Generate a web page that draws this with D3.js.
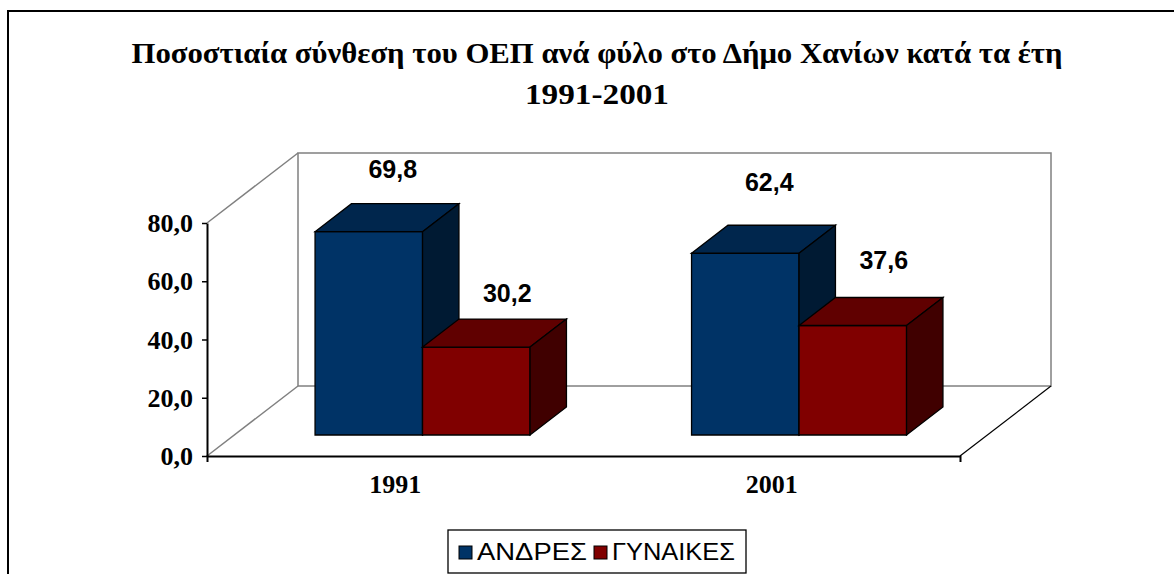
<!DOCTYPE html>
<html>
<head>
<meta charset="utf-8">
<script src="https://cdn.jsdelivr.net/npm/d3@7"></script>
<style>
  html, body { margin: 0; padding: 0; background: #ffffff; }
  svg { display: block; }
</style>
</head>
<body>
<svg id="chart" width="1174" height="574"></svg>
<script>
// ---- data ----
const categories = ["1991", "2001"];
const series = ["ΑΝΔΡΕΣ", "ΓΥΝΑΙΚΕΣ"];
const men = [69.8, 62.4];
const women = [30.2, 37.6];
const yTicks = [0, 20, 40, 60, 80];
const titleLines = ["Ποσοστιαία σύνθεση του ΟΕΠ ανά φύλο στο Δήμο Χανίων κατά τα έτη", "1991-2001"];

const values = [men, women];
const frontColors = ["#003366", "#800000"];
const topColors = ["#00264d", "#600000"];
const sideColors = ["#001a33", "#400000"];

const svg = d3.select("#chart");

// outer frame
svg.append("rect").attr("x", 8).attr("y", 11).attr("width", 1200).attr("height", 600)
  .attr("fill", "none").attr("stroke", "#000").attr("stroke-width", 2);

// title
const titleWidths = [931, 144];
titleLines.forEach((t, i) => {
  svg.append("text").attr("text-anchor", "middle")
    .attr("font-family", "'Liberation Serif', 'Times New Roman', serif")
    .attr("font-weight", "bold").attr("font-size", 30).attr("fill", "#000")
    .attr("x", 597).attr("y", 63 + i * 41)
    .attr("textLength", titleWidths[i]).attr("lengthAdjust", "spacingAndGlyphs")
    .text(t);
});

// geometry
const x0 = 207, x1 = 960, yBase = 456, yTop = 223;
const DX = 91, DY = -70;        // total depth offset
const fFront = 0.3, fBack = 0.7; // bar depth position

const x = d3.scaleBand().domain(categories).range([x0, x1]);
const inner = d3.scaleBand().domain(series).range([0, 215]);
const y = d3.scaleLinear().domain([0, 80]).range([yBase, yTop]);

// walls
const g = svg.append("g");
const gray = "#808080";
g.append("rect").attr("x", x0 + DX).attr("y", y(80) + DY).attr("width", x1 - x0).attr("height", y(0) - y(80))
  .attr("fill", "#fff").attr("stroke", gray).attr("stroke-width", 1.5);
g.append("line").attr("x1", x0).attr("y1", y(80)).attr("x2", x0 + DX).attr("y2", y(80) + DY)
  .attr("stroke", gray).attr("stroke-width", 1.5);
g.append("line").attr("x1", x0).attr("y1", y(0)).attr("x2", x0 + DX).attr("y2", y(0) + DY)
  .attr("stroke", gray).attr("stroke-width", 1.5);
g.append("line").attr("x1", x1).attr("y1", y(0)).attr("x2", x1 + DX).attr("y2", y(0) + DY)
  .attr("stroke", "#000").attr("stroke-width", 1.2);

// y axis
const yAxis = d3.axisLeft(y).tickValues(yTicks).tickSize(5).tickSizeOuter(0).tickPadding(9)
  .tickFormat(d => d3.format(".1f")(d).replace(".", ","));
const ya = svg.append("g").attr("transform", `translate(${x0},0)`).call(yAxis);
ya.select(".domain").attr("stroke", "#000").attr("stroke-width", 2);
ya.selectAll(".tick line").attr("stroke", "#000").attr("stroke-width", 1.5);
ya.selectAll(".tick text").attr("font-family", "'Liberation Serif', 'Times New Roman', serif")
  .attr("font-weight", "bold").attr("font-size", 26).attr("fill", "#000").attr("dy", "0.33em");

// x axis
const xAxis = d3.axisBottom(x).tickSize(0).tickSizeOuter(6).tickPadding(19);
const xa = svg.append("g").attr("transform", `translate(0,${yBase})`).call(xAxis);
xa.select(".domain").attr("stroke", "#000").attr("stroke-width", 2);
xa.selectAll(".tick text").attr("font-family", "'Liberation Serif', 'Times New Roman', serif")
  .attr("font-weight", "bold").attr("font-size", 26).attr("fill", "#000");

// bars
const bdx = (fBack - fFront) * DX, bdy = (fBack - fFront) * DY;
const offX = fFront * DX, offY = fFront * DY;
const bars = svg.append("g");
const labels = svg.append("g");
categories.forEach((c, ci) => {
  series.forEach((s, si) => {
    const v = values[si][ci];
    const bx0 = x(c) + x.bandwidth() / 2 - 107.5 + inner(s) + offX;
    const bx1 = bx0 + inner.bandwidth();
    const yt = y(v) + offY, yb = y(0) + offY;
    const poly = (pts, fill) => bars.append("polygon")
      .attr("points", pts.map(q => q.join(",")).join(" ")).attr("fill", fill)
      .attr("stroke", "#000").attr("stroke-width", 1.3).attr("stroke-linejoin", "miter");
    poly([[bx0, yb], [bx0, yt], [bx1, yt], [bx1, yb]], frontColors[si]);
    poly([[bx0, yt], [bx0 + bdx, yt + bdy], [bx1 + bdx, yt + bdy], [bx1, yt]], topColors[si]);
    poly([[bx1, yt], [bx1 + bdx, yt + bdy], [bx1 + bdx, yb + bdy], [bx1, yb]], sideColors[si]);

    const labelY = d3.scaleLinear().domain([0, 80]).range([397 - 10 * ci, 146 - 10 * ci]);
    labels.append("text").attr("x", (bx0 + bx1) / 2 + 24 + 7 * si).attr("y", labelY(v))
      .attr("text-anchor", "middle")
      .attr("font-family", "'Liberation Sans', Arial, sans-serif").attr("font-weight", "bold")
      .attr("font-size", 25).attr("fill", "#000")
      .text(d3.format(".1f")(v).replace(".", ","));
  });
});

// legend
const lg = svg.append("g");
lg.append("rect").attr("x", 448).attr("y", 530).attr("width", 298).attr("height", 43)
  .attr("fill", "#fff").attr("stroke", "#000").attr("stroke-width", 1.3);
const legendX = [459, 594];
const legendW = [110, 123];
series.forEach((s, i) => {
  lg.append("rect").attr("x", legendX[i]).attr("y", 546).attr("width", 13).attr("height", 13)
    .attr("fill", frontColors[i]).attr("stroke", "#000").attr("stroke-width", 1);
  lg.append("text").attr("x", legendX[i] + 18).attr("y", 560)
    .attr("font-family", "'Liberation Sans', Arial, sans-serif").attr("font-size", 23).attr("fill", "#000")
    .attr("textLength", legendW[i]).attr("lengthAdjust", "spacingAndGlyphs")
    .text(s);
});
</script>
</body>
</html>
